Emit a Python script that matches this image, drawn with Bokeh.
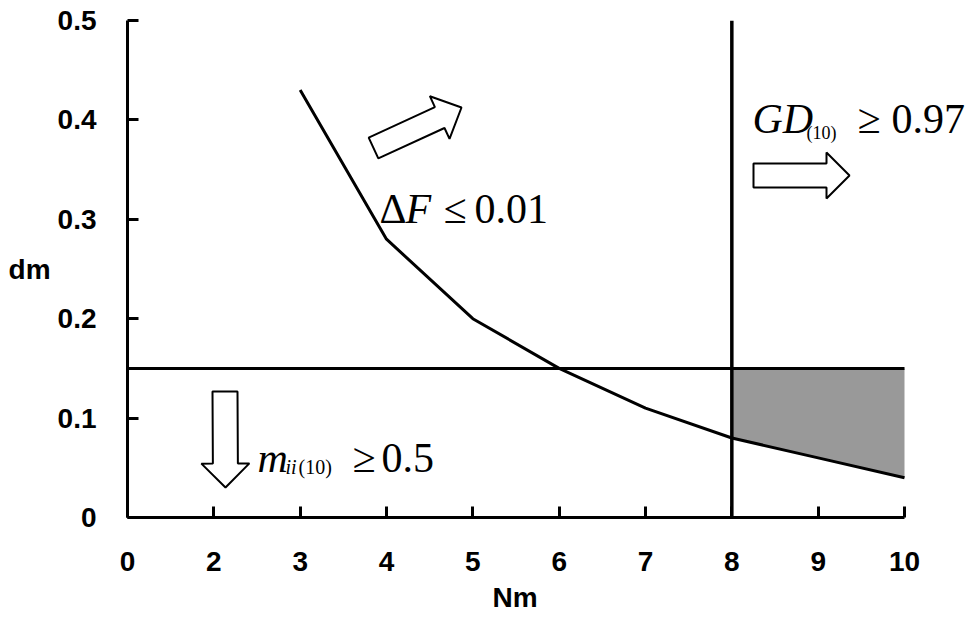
from bokeh.plotting import figure
from bokeh.models import Range1d, FixedTicker, Label, Title
from bokeh.embed import file_html
from bokeh.resources import INLINE

# ---- data ----
categories = ["0", "2", "3", "4", "5", "6", "7", "8", "9", "10"]
curve_nm = ["3", "4", "5", "6", "7", "8", "9", "10"]
curve_dm = [0.43, 0.28, 0.20, 0.15, 0.11, 0.08, 0.06, 0.04]
dm_limit = 0.15
nm_limit = "8"
y_ticks = [0, 0.1, 0.2, 0.3, 0.4, 0.5]
y_tick_labels = ["0", "0.1", "0.2", "0.3", "0.4", "0.5"]
x_title = "Nm"
y_title = "dm"

W, H = 972, 620
L, R, T, B = 127, 904, 20, 517
XMAX = len(categories) - 1
XS = (R - L) / XMAX
YS = (B - T) / 0.5
XEND = (W - L) / XS  # frame extends to the right edge so texts are not clipped

def px2x(px):
    return (px - L) / XS

def py2y(py):
    return (B - py) / YS

pos = {c: i for i, c in enumerate(categories)}
cx = [pos[c] for c in curve_nm]

p = figure(width=W, height=H, output_backend="svg", toolbar_location=None,
           x_range=Range1d(0, XEND), y_range=Range1d(0, 0.5),
           min_border_left=L, min_border_right=0,
           min_border_top=T, min_border_bottom=H - B)
p.grid.visible = False
p.outline_line_color = None
p.background_fill_color = "white"
p.border_fill_color = "white"

# gray feasible region
sel = [i for i, c in enumerate(curve_nm) if pos[c] >= pos[nm_limit]]
p.varea(x=[cx[i] for i in sel], y1=[curve_dm[i] for i in sel],
        y2=[dm_limit] * len(sel), fill_color="#999999")

# curve and limit lines
p.line(cx, curve_dm, line_color="black", line_width=3)
p.line([0, XMAX], [dm_limit, dm_limit], line_color="black", line_width=3)
p.line([pos[nm_limit], pos[nm_limit]], [0, 0.5], line_color="black", line_width=3.5)

# hollow block arrows (defined in pixel space)
def arrow(x0, y0, x1, y1, sw, hw, hl):
    dx, dy = x1 - x0, y1 - y0
    ln = (dx * dx + dy * dy) ** 0.5
    ux, uy = dx / ln, dy / ln
    nx, ny = -uy, ux
    bx, by = x1 - ux * hl, y1 - uy * hl
    pts = [(x0 + nx * sw / 2, y0 + ny * sw / 2),
           (bx + nx * sw / 2, by + ny * sw / 2),
           (bx + nx * hw / 2, by + ny * hw / 2),
           (x1, y1),
           (bx - nx * hw / 2, by - ny * hw / 2),
           (bx - nx * sw / 2, by - ny * sw / 2),
           (x0 - nx * sw / 2, y0 - ny * sw / 2)]
    return [px2x(a) for a, b in pts], [py2y(b) for a, b in pts]

for a in [(373, 147.5, 461, 107, 23, 47, 24),
          (753, 175, 849, 175, 24, 46, 23),
          (224.5, 391, 225, 487, 25, 48, 24)]:
    xs, ys = arrow(*a)
    p.patch(xs, ys, fill_color="white", line_color="black", line_width=2)

# math-like annotations
def txt(px, py, s, size, italic=False):
    p.add_layout(Label(x=px2x(px), y=py2y(py), text=s,
                       text_font="Liberation Serif", text_font_size=f"{size}px",
                       text_font_style="italic" if italic else "normal",
                       text_color="black", text_align="left",
                       text_baseline="alphabetic"))

# ΔF ≤ 0.01
txt(379, 208, "Δ", 42)
txt(405, 208, "F", 42, italic=True)
txt(443, 208, "≤", 42)
txt(474, 208, "0.01", 42)
# GD(10) ≥ 0.97
txt(752, 118, "GD", 42, italic=True)
txt(806, 132, "(10)", 18)
txt(857, 118, "≥", 42)
txt(891, 118, "0.97", 42)
# m_ii(10) ≥ 0.5
txt(257, 457, "m", 42, italic=True)
txt(285, 466, "ii", 20, italic=True)
txt(298, 466, "(10)", 20)
txt(352, 457, "≥", 42)
txt(381, 457, "0.5", 42)

# axes
for ax in (p.xaxis[0], p.yaxis[0]):
    ax.axis_line_width = 3
    ax.axis_line_color = "black"
    ax.major_tick_line_width = 3
    ax.major_tick_line_color = "black"
    ax.major_tick_in = 11
    ax.major_tick_out = 0
    ax.minor_tick_line_color = None
    ax.major_label_text_font = "Liberation Sans"
    ax.major_label_text_font_style = "bold"
    ax.major_label_text_font_size = "28px"
    ax.major_label_text_color = "black"
    ax.axis_label_text_font = "Liberation Sans"
    ax.axis_label_text_font_style = "bold"
    ax.axis_label_text_font_size = "28px"
    ax.axis_label_text_color = "black"

p.xaxis.ticker = FixedTicker(ticks=list(range(len(categories))))
p.xaxis.major_label_overrides = {i: c for i, c in enumerate(categories)}
p.xaxis.bounds = (0, XMAX)
p.xaxis.major_label_standoff = 34

# x-axis title, centred under the drawn axis (the frame is wider than the axis)
p.add_layout(Title(text=x_title, align="left", offset=365, standoff=12,
                   text_font="Liberation Sans", text_font_style="bold",
                   text_font_size="28px", text_color="black"), "below")

p.yaxis.ticker = FixedTicker(ticks=y_ticks)
p.yaxis.major_label_overrides = {t: s for t, s in zip(y_ticks, y_tick_labels)}
p.yaxis.axis_label = y_title
p.yaxis.axis_label_orientation = "horizontal"
p.yaxis.major_label_standoff = 31
p.yaxis.axis_label_standoff = 4

open("out.html", "w").write(file_html(p, INLINE))
